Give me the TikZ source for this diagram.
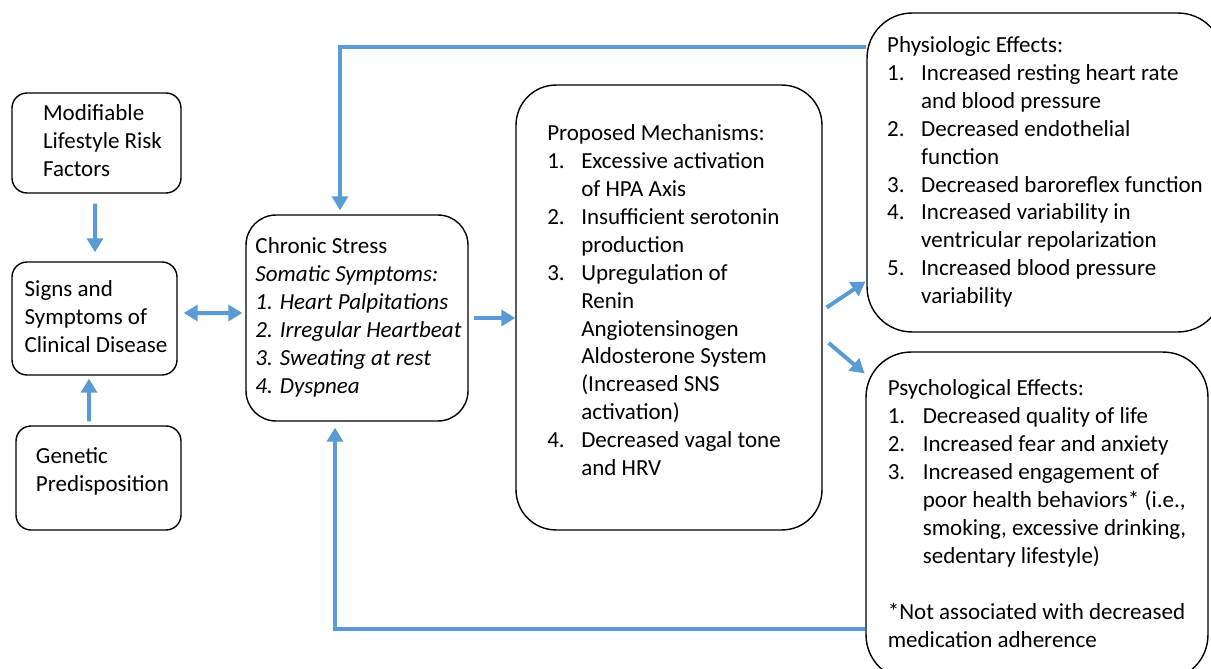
\documentclass[tikz,border=0pt]{standalone}
\usepackage{fontspec}
\setmainfont{Carlito}
\usetikzlibrary{positioning, arrows.meta}
\definecolor{flowblue}{HTML}{5B9BD5}

\begin{document}
\begin{tikzpicture}[
  x=0.02cm, y=-0.02cm,
  >={Triangle[length=0.28cm, width=0.32cm]},
  font=\fontsize{13.1}{15.9}\selectfont,
  box/.style={draw=black, line width=0.8pt, rounded corners=#1,
    align=left, inner sep=0pt},
  box/.default=0.3cm,
  arr/.style={->, line width=0.08cm, flowblue}
]
\useasboundingbox (0,0) rectangle (1211,669);
\clip (0,0) rectangle (1211,669);

% left column
\node[box, minimum width=3.38cm, minimum height=2cm] (mod) at (96.5,143)
  {\begin{tabular}{@{\hspace{0.24cm}}l@{}}
   Modifiable\\Lifestyle Risk\\Factors
   \end{tabular}};
\node[box, minimum width=3.3cm, minimum height=2.26cm] (signs) at (94.5,318.5)
  {\begin{tabular}{@{\hspace{0.06cm}}l@{}}
   Signs and\\Symptoms of\\Clinical Disease
   \end{tabular}};
\node[box, minimum width=3.3cm, minimum height=2.08cm] (gen) at (98.5,478)
  {\begin{tabular}{@{\hspace{0.16cm}}l@{}}
   Genetic\\Predisposition\\[0.24cm]
   \end{tabular}};

% chronic stress
\node[box=0.6cm, minimum width=4.44cm, minimum height=4.12cm] (stress) at (357,318)
  {\begin{tabular}{@{\hspace{0.06cm}}l@{}}
   Chronic Stress\\\textit{Somatic Symptoms:}\\\textit{1. Heart Palpitations}\\
   \textit{2. Irregular Heartbeat}\\\textit{3. Sweating at rest}\\\textit{4. Dyspnea}
   \end{tabular}};

% mechanisms
\node[box=0.8cm, minimum width=6.12cm, minimum height=8.9cm] (mech) at (669,307.5)
  {\begin{tabular}{@{}p{0.68cm}@{}l@{\hspace{0.2cm}}}
   \multicolumn{2}{@{}l@{}}{Proposed Mechanisms:}\\
   1. & Excessive activation\\
      & of HPA Axis\\
   2. & Insufficient serotonin\\
      & production\\
   3. & Upregulation of\\
      & Renin\\
      & Angiotensinogen\\
      & Aldosterone System\\
      & (Increased SNS\\
      & activation)\\
   4. & Decreased vagal tone\\
      & and HRV\\[0.2cm]
   \end{tabular}};

% effects
\node[box=0.9cm, minimum width=7.12cm, minimum height=6.38cm] (phys) at (1045,172.5)
  {\begin{tabular}{@{}p{0.68cm}@{}l@{}}
   \multicolumn{2}{@{}l@{}}{Physiologic Effects:}\\
   1. & Increased resting heart rate\\
      & and blood pressure\\
   2. & Decreased endothelial\\
      & function\\
   3. & Decreased baroreflex function\\
   4. & Increased variability in\\
      & ventricular repolarization\\
   5. & Increased blood pressure\\
      & variability
   \end{tabular}};
\node[box=0.9cm, minimum width=6.84cm, minimum height=6.56cm] (psych) at (1037,516)
  {\begin{tabular}{@{}p{0.7cm}@{}l@{}}
   \multicolumn{2}{@{}l@{}}{Psychological Effects:}\\
   1. & Decreased quality of life\\
   2. & Increased fear and anxiety\\
   3. & Increased engagement of\\
      & poor health behaviors* (i.e.,\\
      & smoking, excessive drinking,\\
      & sedentary lifestyle)\\
      & \\
   \multicolumn{2}{@{}l@{}}{*Not associated with decreased}\\
   \multicolumn{2}{@{}l@{}}{medication adherence}
   \end{tabular}};

% connectors
\draw[arr, shorten <=0.2cm, shorten >=0.18cm] ([xshift=-0.03cm]mod.south) -- ([xshift=0.01cm]signs.north);
\draw[arr, shorten <=0.08cm, shorten >=0.06cm] ([xshift=-0.19cm]gen.north) -- ([xshift=-0.11cm]signs.south);
\draw[arr, <->, shorten <=0.12cm, shorten >=0.06cm] ([yshift=0.11cm]signs.east) -- ([yshift=0.1cm]stress.west);
\draw[arr, shorten <=0.1cm] (stress.east) -- (stress.east -| mech.west);
\draw[arr, shorten >=0.02cm] ([xshift=0.08cm]mech.east) -- ([yshift=-2.17cm]phys.west);
\draw[arr, shorten >=0.02cm] ([xshift=0.12cm, yshift=-0.71cm]mech.east) -- ([yshift=2.84cm]psych.west);
\draw[arr, shorten >=0.08cm] ([yshift=2.51cm]phys.west) -| ([xshift=-0.34cm]stress.north);
\draw[arr, shorten >=0.12cm] ([yshift=-2.26cm]psych.west) -| ([xshift=-0.44cm]stress.south);
\end{tikzpicture}
\end{document}
